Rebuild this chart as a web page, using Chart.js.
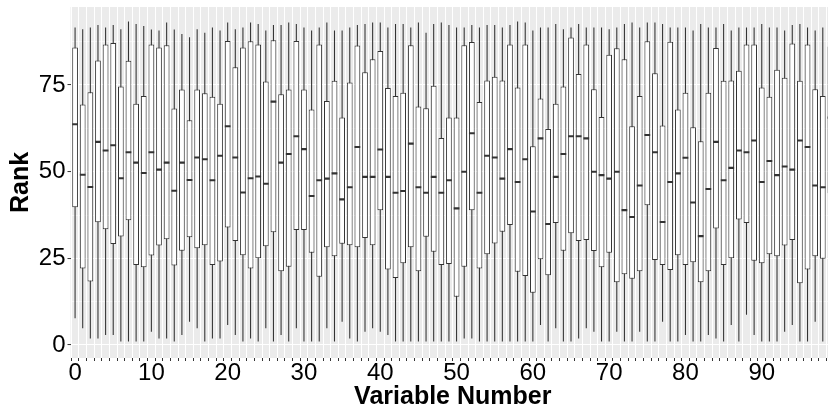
<!DOCTYPE html>
<html lang="en">
<head>
  <meta charset="UTF-8" />
  <title>Rank by variable</title>
  <style>
    body {
      margin: 0;
      background: #ffffff;
      overflow: hidden;
    }
    #wrap {
      width: 836px;
      height: 414px;
    }
  </style>
</head>
<body>
  <div id="wrap">
    <canvas id="boxChart" width="836" height="414"></canvas>
  </div>

  <script src="https://cdn.jsdelivr.net/npm/chart.js"></script>
  <script>
// values, one entry per variable 0..99
const variables = Array.from({ length: 100 }, (_, i) => i);

const whiskerLow = [
  7.7, 4.8, 1.9, 1.9, 2.9, 2.9, 1.0, 1.0, 1.0, 1.0,
  3.8, 1.9, 1.9, 1.0, 2.9, 6.7, 4.8, 1.0, 1.9, 1.9,
  5.8, 2.9, 1.0, 1.9, 1.0, 4.8, 1.0, 2.9, 1.0, 4.8,
  1.0, 1.0, 1.0, 4.8, 1.0, 6.7, 1.9, 1.0, 3.8, 4.8,
  3.8, 2.9, 1.0, 1.0, 1.0, 1.0, 1.0, 1.0, 1.0, 1.0,
  1.0, 1.9, 1.9, 1.0, 1.0, 1.0, 1.0, 1.0, 1.0, 1.0,
  1.0, 5.8, 1.0, 4.8, 1.0, 1.0, 1.9, 4.8, 3.8, 1.0,
  1.0, 3.8, 1.0, 1.0, 3.8, 1.0, 1.0, 6.7, 1.0, 1.0,
  2.9, 1.0, 1.0, 2.9, 1.9, 1.0, 5.8, 1.0, 8.7, 2.9,
  1.0, 1.0, 1.0, 3.8, 5.8, 1.0, 1.0, 6.7, 1.0, 1.0
];

const lowerQuartile = [
  39.7, 22.1, 18.3, 35.4, 33.4, 29.1, 31.3, 36.0, 23.1, 22.4,
  25.8, 28.7, 30.5, 22.9, 27.2, 31.1, 27.9, 28.8, 23.1, 24.1,
  33.9, 30.0, 25.9, 22.1, 25.0, 28.5, 32.5, 21.3, 22.6, 33.2,
  33.2, 26.6, 19.7, 28.2, 25.6, 29.2, 28.8, 28.2, 30.9, 28.8,
  38.9, 21.8, 19.3, 23.6, 28.2, 21.3, 31.2, 26.9, 23.1, 23.4,
  13.9, 22.6, 38.9, 22.1, 26.2, 29.3, 32.7, 34.6, 21.1, 19.9,
  15.1, 24.7, 20.1, 35.2, 27.2, 32.2, 30.0, 30.3, 27.1, 22.4,
  26.6, 18.1, 20.4, 19.1, 21.3, 40.3, 24.5, 23.1, 21.6, 25.9,
  23.1, 23.9, 18.1, 21.3, 33.6, 23.1, 25.0, 36.2, 35.2, 24.3,
  23.6, 26.2, 25.6, 28.7, 30.3, 17.8, 21.8, 25.6, 24.9, 43.8
];

const medians = [
  63.7, 49.1, 45.6, 58.6, 56.1, 57.6, 48.1, 55.6, 52.6, 49.6,
  55.6, 50.6, 52.6, 44.5, 52.6, 47.6, 54.1, 53.6, 47.5, 54.6,
  63.1, 54.1, 44.0, 48.1, 48.6, 46.5, 70.2, 52.6, 55.1, 60.2,
  56.5, 43.0, 47.5, 48.0, 49.5, 42.0, 45.5, 57.1, 48.5, 48.5,
  56.4, 48.5, 43.9, 44.4, 58.1, 45.5, 43.9, 48.5, 43.9, 47.5,
  39.4, 50.0, 61.1, 43.9, 54.6, 54.1, 48.0, 56.5, 47.0, 53.6,
  38.5, 59.6, 34.9, 48.5, 55.1, 60.2, 60.2, 59.6, 50.0, 49.0,
  48.0, 50.0, 38.9, 36.9, 46.0, 60.6, 55.6, 35.5, 47.0, 49.5,
  54.0, 41.1, 31.4, 45.0, 58.6, 47.5, 51.1, 56.1, 55.6, 59.0,
  47.0, 53.1, 49.0, 51.5, 50.6, 59.0, 57.1, 46.0, 45.5, 65.6
];

const upperQuartile = [
  85.8, 69.4, 72.9, 82.1, 86.7, 87.1, 74.6, 82.0, 69.6, 71.8,
  86.7, 85.8, 86.5, 68.2, 73.7, 64.8, 73.7, 72.6, 71.6, 69.6,
  87.7, 80.1, 85.8, 87.6, 86.7, 76.0, 87.9, 72.3, 73.7, 87.7,
  73.7, 67.9, 86.7, 70.4, 76.2, 65.6, 75.7, 86.4, 78.7, 82.4,
  84.8, 74.1, 71.8, 72.8, 86.5, 68.8, 68.3, 74.8, 59.7, 65.6,
  65.6, 86.5, 87.4, 70.1, 76.3, 77.4, 76.3, 86.7, 74.3, 86.7,
  57.3, 71.1, 62.3, 69.6, 74.6, 88.7, 78.2, 86.7, 73.8, 65.8,
  83.7, 85.6, 82.4, 63.1, 71.8, 87.6, 78.4, 63.3, 87.5, 67.9,
  72.8, 62.8, 58.8, 72.8, 85.7, 76.2, 76.3, 79.1, 86.7, 86.7,
  74.3, 71.6, 79.4, 77.1, 87.0, 76.2, 86.7, 73.8, 71.8, 86.1
];

const whiskerHigh = [
  91.6, 91.1, 91.6, 92.3, 91.6, 92.3, 91.1, 93.3, 92.6, 92.0,
  91.0, 90.7, 93.0, 91.0, 89.7, 88.8, 91.1, 90.1, 91.6, 90.7,
  93.0, 91.1, 91.6, 93.0, 92.6, 90.7, 92.3, 92.3, 93.0, 92.6,
  91.6, 90.7, 91.6, 93.0, 90.7, 90.7, 91.6, 92.3, 92.6, 93.0,
  93.0, 91.6, 92.6, 92.6, 91.6, 93.0, 90.1, 92.6, 93.0, 92.3,
  91.6, 91.6, 92.3, 91.6, 92.3, 92.3, 91.6, 92.3, 93.3, 93.0,
  90.7, 91.6, 91.6, 92.6, 91.1, 91.6, 92.6, 91.6, 91.6, 91.6,
  91.1, 91.6, 92.6, 93.0, 91.6, 93.0, 93.0, 92.6, 91.6, 91.6,
  91.6, 90.7, 92.6, 91.6, 91.6, 92.6, 90.7, 91.6, 91.6, 91.6,
  92.6, 91.6, 91.6, 90.7, 92.3, 92.6, 91.6, 90.7, 91.6, 91.6
];

const yTicks = [0, 12.5, 25, 37.5, 50, 62.5, 75, 87.5];
const xLabelEvery = 10;

const FONT = "'Liberation Sans', Arial, sans-serif";
const INK = "#333333";

// grey panel behind the plot, like ggplot
const panelBg = {
  id: "panelBg",
  beforeDraw(chart) {
    const { ctx, chartArea: a } = chart;
    ctx.save();
    ctx.fillStyle = "#ebebeb";
    ctx.fillRect(a.left, a.top, a.right - a.left, a.bottom - a.top);
    ctx.restore();
  }
};

const medianHalf = 0.3; // half thickness of the median bar, in rank units

new Chart(document.getElementById("boxChart"), {
  type: "bar",
  data: {
    datasets: [
      {
        label: "median",
        data: variables.map(i => ({ x: i, y: [medians[i] - medianHalf, medians[i] + medianHalf] })),
        backgroundColor: INK,
        borderWidth: 0,
        grouped: false,
        categoryPercentage: 1,
        barPercentage: 0.75
      },
      {
        label: "box",
        data: variables.map(i => ({ x: i, y: [lowerQuartile[i], upperQuartile[i]] })),
        backgroundColor: "#ffffff",
        borderColor: INK,
        borderWidth: 1,
        borderSkipped: false,
        grouped: false,
        categoryPercentage: 1,
        barPercentage: 0.75
      },
      {
        label: "whisker",
        data: variables.map(i => ({ x: i, y: [whiskerLow[i], whiskerHigh[i]] })),
        backgroundColor: INK,
        borderWidth: 0,
        grouped: false,
        categoryPercentage: 1,
        barPercentage: 0.14
      }
    ]
  },
  options: {
    responsive: false,
    animation: false,
    devicePixelRatio: 1,
    layout: { padding: { top: 7, right: 1, left: 0, bottom: 0 } },
    plugins: {
      legend: { display: false },
      tooltip: { enabled: false }
    },
    scales: {
      x: {
        type: "linear",
        offset: false,
        min: -0.6,
        max: 99.6,
        afterBuildTicks: axis => {
          axis.ticks = variables.map(v => ({ value: v }));
        },
        afterFit: s => {
          s.height = 56;
          s.paddingLeft = 0;
          s.paddingRight = 0;
        },
        ticks: {
          autoSkip: false,
          maxRotation: 0,
          minRotation: 0,
          padding: 0,
          color: "#000",
          font: { family: FONT, size: 24, lineHeight: 1 },
          callback: v => (v % xLabelEvery === 0 ? String(v) : "")
        },
        grid: {
          color: "#ffffff",
          lineWidth: 1,
          tickColor: INK,
          tickLength: 3,
          tickWidth: 1
        },
        border: { display: false },
        title: {
          display: true,
          text: "Variable Number",
          color: "#000",
          font: { family: FONT, size: 25, weight: "bold", lineHeight: 1 },
          padding: { top: 0, bottom: 4 }
        }
      },
      y: {
        min: -3.75,
        max: 97.5,
        afterBuildTicks: axis => {
          axis.ticks = yTicks.map(v => ({ value: v }));
        },
        afterFit: s => {
          s.width = 70.5;
          s.paddingTop = 0;
          s.paddingBottom = 0;
        },
        ticks: {
          padding: 2,
          color: "#000",
          font: { family: FONT, size: 24, lineHeight: 1 },
          callback: v => (v % 25 === 0 ? String(v) : "")
        },
        grid: {
          color: "#ffffff",
          lineWidth: ctx => (ctx.tick && ctx.tick.value % 25 === 0 ? 1.1 : 0.55),
          tickColor: ctx => (ctx.tick && ctx.tick.value % 25 === 0 ? INK : "rgba(0,0,0,0)"),
          tickLength: 3,
          tickWidth: 1
        },
        border: { display: false },
        title: {
          display: true,
          text: "Rank",
          color: "#000",
          font: { family: FONT, size: 25, weight: "bold", lineHeight: 1 },
          padding: { top: 9, bottom: 0 }
        }
      }
    }
  },
  plugins: [panelBg]
});
  </script>
</body>
</html>
